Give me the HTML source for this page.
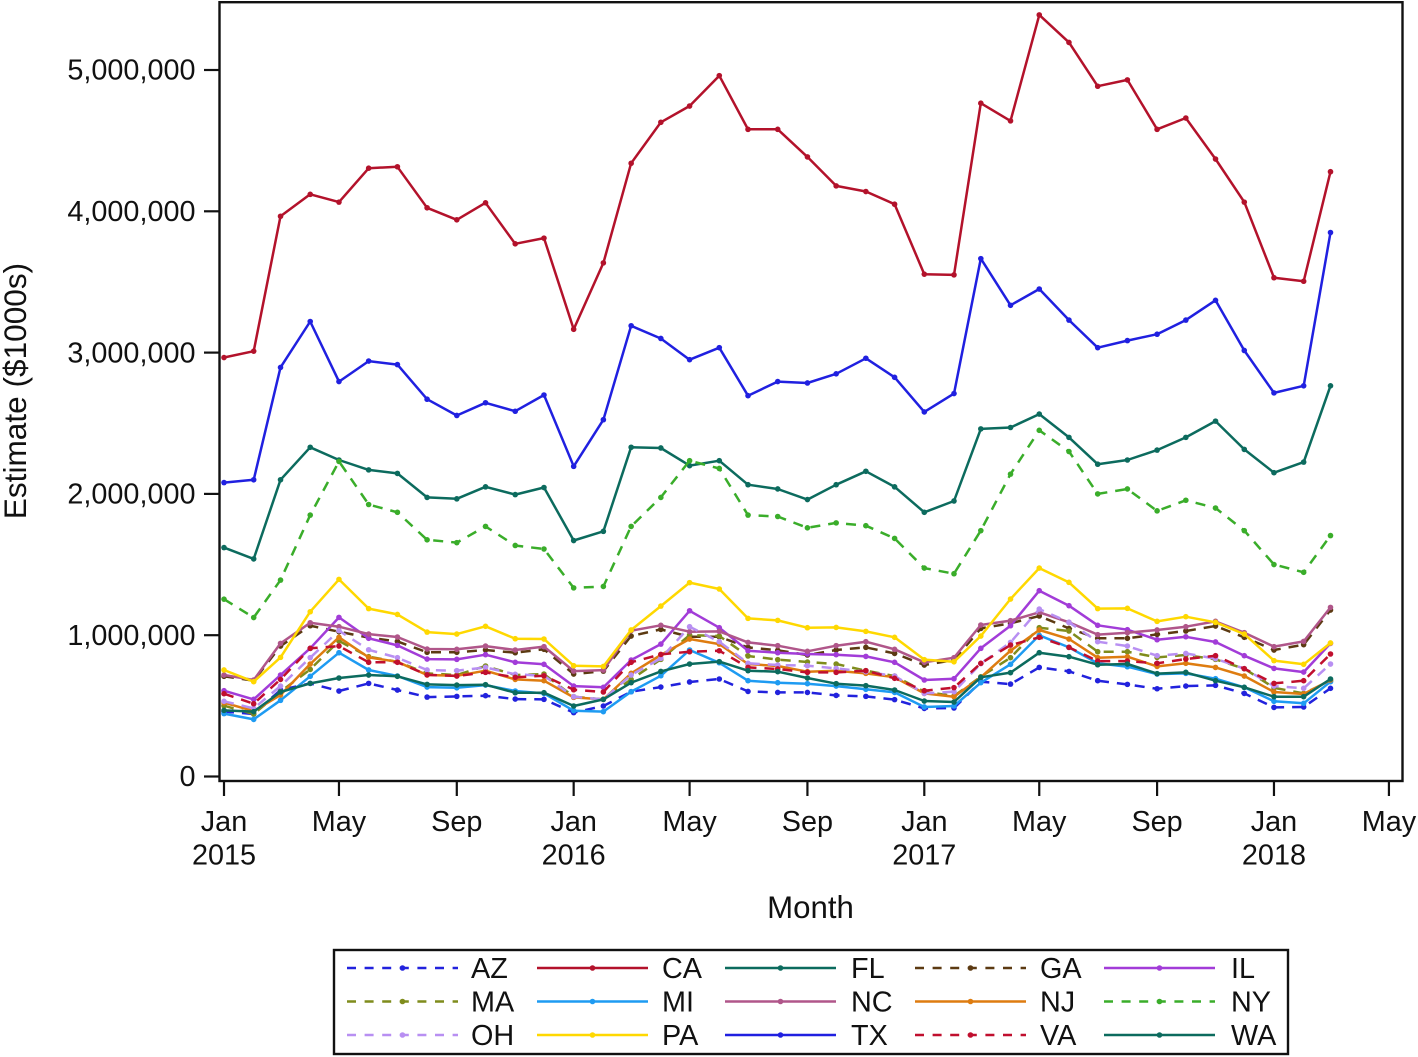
<!DOCTYPE html>
<html>
<head>
<meta charset="utf-8">
<title>Estimate by Month</title>
<style>
html,body{margin:0;padding:0;background:#fff;}
svg{display:block;}
text{font-family:"Liberation Sans",Arial,sans-serif;fill:#111;}
</style>
</head>
<body>
<svg id="chart" xmlns="http://www.w3.org/2000/svg" width="1418" height="1057" viewBox="0 0 1418 1057">
  <rect x="219.5" y="2.2" width="1183" height="778.8" fill="none" stroke="#111" stroke-width="2.4"/>
  <g id="marks"></g>
  <g id="axes"></g>
  <text transform="translate(26,391) rotate(-90)" text-anchor="middle" font-size="31.6">Estimate ($1000s)</text>
  <text x="810.5" y="918" text-anchor="middle" font-size="31.2">Month</text>
  <rect x="334" y="950" width="954" height="104" fill="#fff" stroke="#111" stroke-width="2.4"/>
  <g id="legend"></g>
</svg>
<script>
const startYear = 2015;
const startMonth = 0;
const yTickValues = [0, 1000000, 2000000, 3000000, 4000000, 5000000];
const yTickLabels = ["0", "1,000,000", "2,000,000", "3,000,000", "4,000,000", "5,000,000"];
const xTickOffsets = [0, 4, 8, 12, 16, 20, 24, 28, 32, 36, 40];
const xTickMonths = ["Jan", "May", "Sep", "Jan", "May", "Sep", "Jan", "May", "Sep", "Jan", "May"];
const xTickYears = ["2015", "", "", "2016", "", "", "2017", "", "", "2018", ""];

const seriesNames = ["AZ", "CA", "FL", "GA", "IL", "MA", "MI", "NC", "NJ", "NY", "OH", "PA", "TX", "VA", "WA"];
const AZ = [459,442,612,659,605,659,612,562,567,572,548,546,452,499,600,633,669,690,602,595,595,574,567,544,482,485,671,654,772,744,678,652,621,640,645,588,489,492,624];
const CA = [2965,3010,3965,4120,4065,4305,4315,4025,3940,4060,3770,3810,3165,3635,4340,4630,4745,4960,4580,4580,4385,4180,4140,4050,3555,3550,4765,4640,5390,5195,4885,4930,4580,4660,4370,4065,3530,3505,4280];
const FL = [1620,1540,2100,2330,2240,2170,2145,1975,1965,2050,1995,2045,1670,1735,2330,2325,2200,2235,2065,2035,1960,2065,2160,2050,1870,1950,2460,2470,2565,2400,2210,2240,2310,2400,2515,2315,2150,2225,2765];
const GA = [709,678,923,1067,1025,982,956,879,879,895,876,900,725,746,994,1041,989,989,914,893,860,895,914,871,789,824,1048,1084,1136,1048,978,978,1006,1030,1065,985,895,933,1178];
const IL = [607,546,718,907,1126,978,928,831,829,862,808,794,640,631,824,937,1173,1053,890,876,867,862,850,808,683,692,907,1067,1315,1209,1070,1039,968,989,952,855,765,739,942];
const MA = [501,442,600,758,959,848,812,730,718,782,718,725,565,546,687,829,1001,994,853,827,810,796,749,711,600,570,706,841,1053,1030,883,883,843,860,829,763,628,588,678];
const MI = [445,404,539,709,876,754,711,633,628,647,605,588,466,459,600,713,895,805,678,664,657,640,617,595,492,499,664,794,999,914,801,777,725,730,692,631,532,518,671];
const NC = [718,683,942,1088,1060,1008,987,902,900,923,895,919,746,753,1032,1070,1025,1027,949,926,886,926,954,900,808,841,1072,1103,1162,1091,1004,1018,1037,1060,1098,1018,919,956,1197];
const NJ = [522,463,577,796,985,843,812,718,713,749,687,678,560,546,730,860,973,937,796,782,742,749,730,702,588,565,702,890,1037,973,841,848,779,801,772,711,598,584,683];
const NY = [1255,1125,1390,1850,2230,1925,1870,1675,1655,1770,1635,1610,1335,1345,1770,1975,2235,2180,1850,1840,1760,1795,1775,1685,1475,1435,1740,2140,2450,2300,2000,2035,1880,1955,1900,1740,1500,1445,1705];
const OH = [532,482,640,841,1032,897,841,754,749,772,723,713,565,546,718,836,1060,954,801,789,784,765,742,711,588,600,799,949,1185,1091,954,923,855,871,834,763,640,624,796];
const PA = [754,671,843,1166,1395,1188,1147,1022,1008,1063,975,973,784,779,1037,1206,1372,1327,1119,1105,1053,1055,1027,985,827,812,994,1256,1475,1374,1188,1190,1098,1131,1091,1008,820,794,945];
const TX = [2080,2100,2895,3220,2795,2940,2915,2670,2555,2645,2585,2700,2195,2525,3190,3100,2950,3035,2695,2795,2785,2850,2960,2825,2580,2710,3665,3335,3450,3230,3035,3085,3130,3230,3370,3015,2715,2765,3850];
const VA = [586,515,687,907,923,808,808,720,711,737,702,713,614,598,808,864,883,890,772,761,737,737,749,695,607,629,801,930,985,914,817,817,801,831,855,763,659,678,867];
const WA = [468,459,598,659,697,718,709,652,647,650,593,593,499,546,664,744,796,813,749,742,697,657,643,612,534,527,702,735,876,848,791,796,728,737,678,631,565,565,690];
const seriesValues = [AZ, CA, FL, GA, IL, MA, MI, NC, NJ, NY, OH, PA, TX, VA, WA];

const seriesColors = ["#2222dd","#b3122b","#0c6b5e","#5c3a12","#a23cd8","#7f8c1c","#1e9bf2","#b0568a","#de7c10","#3aad2a","#b88ff2","#ffd800","#2020e0","#c00f2e","#0c6b5e"];
const seriesDashed = [true,false,false,true,false,true,false,false,false,true,true,false,false,true,false];

const SVG_NS = "http://www.w3.org/2000/svg";
const DAY = 86400000;
const epoch = Date.UTC(startYear, startMonth, 1);

function xScale(monthOffset) {
  const days = (Date.UTC(startYear, startMonth + monthOffset, 1) - epoch) / DAY;
  return 224 + days * 0.958;
}
function yScale(value) {
  return 776.5 - value * 0.0001413;
}
function make(tag, attrs, parent) {
  const el = document.createElementNS(SVG_NS, tag);
  for (const k in attrs) el.setAttribute(k, attrs[k]);
  parent.appendChild(el);
  return el;
}

const axes = document.getElementById("axes");
yTickValues.forEach(function (v, i) {
  const y = yScale(v);
  const tick = make("line", {x1: 204, x2: 219, y1: y, y2: y, stroke: "#111", "stroke-width": 2.2}, axes);
  
  
  const label = make("text", {x: 195.5, y: y + 9.7, "text-anchor": "end", "font-size": 28.8}, axes);
  
  
  label.textContent = yTickLabels[i];
});
xTickOffsets.forEach(function (m, i) {
  const x = xScale(m);
  const tick = make("line", {x1: x, x2: x, y1: 781, y2: 796, stroke: "#111", "stroke-width": 2.2}, axes);
  
  
  const label = make("text", {x: x, y: 831, "text-anchor": "middle", "font-size": 28.8}, axes);
  
  
  label.textContent = xTickMonths[i];
  if (xTickYears[i]) {
    const yr = make("text", {x: x, y: 864.5, "text-anchor": "middle", "font-size": 28.8}, axes);
    
    
    yr.textContent = xTickYears[i];
  }
});

const marks = document.getElementById("marks");
seriesNames.forEach(function (name, s) {
  const g = make("g", {}, marks);
  
  
  const values = seriesValues[s];
  const pts = values.map(function (v, i) { return xScale(i).toFixed(1) + "," + yScale(v * 1000).toFixed(1); }).join(" ");
  const attrs = {points: pts, fill: "none", stroke: seriesColors[s], "stroke-width": 2.5, "stroke-linejoin": "round"};
  if (seriesDashed[s]) attrs["stroke-dasharray"] = "10 8";
  const line = make("polyline", attrs, g);
  
  
  values.forEach(function (v, i) {
    const dot = make("circle", {cx: xScale(i), cy: yScale(v * 1000), r: 2.8, fill: seriesColors[s]}, g);
    
    
  });
});

const legendLineX = [347, 537, 725, 915, 1104];
const legendTextX = [471, 662, 851, 1040, 1231];
const legendRowY = [968, 1001.5, 1035];
const legend = document.getElementById("legend");
seriesNames.forEach(function (name, s) {
  const col = s % 5;
  const row = Math.floor(s / 5);
  const x0 = legendLineX[col];
  const y = legendRowY[row];
  const g = make("g", {}, legend);
  
  
  const attrs = {x1: x0, x2: x0 + 111, y1: y, y2: y, stroke: seriesColors[s], "stroke-width": 2.5};
  if (seriesDashed[s]) attrs["stroke-dasharray"] = "9 8.6";
  const line = make("line", attrs, g);
  
  
  const dot = make("circle", {cx: x0 + 55.5, cy: y, r: 2.8, fill: seriesColors[s]}, g);
  
  
  const label = make("text", {x: legendTextX[col], y: y + 10, "font-size": 28.8}, g);
  
  
  label.textContent = name;
});
</script>
</body>
</html>
